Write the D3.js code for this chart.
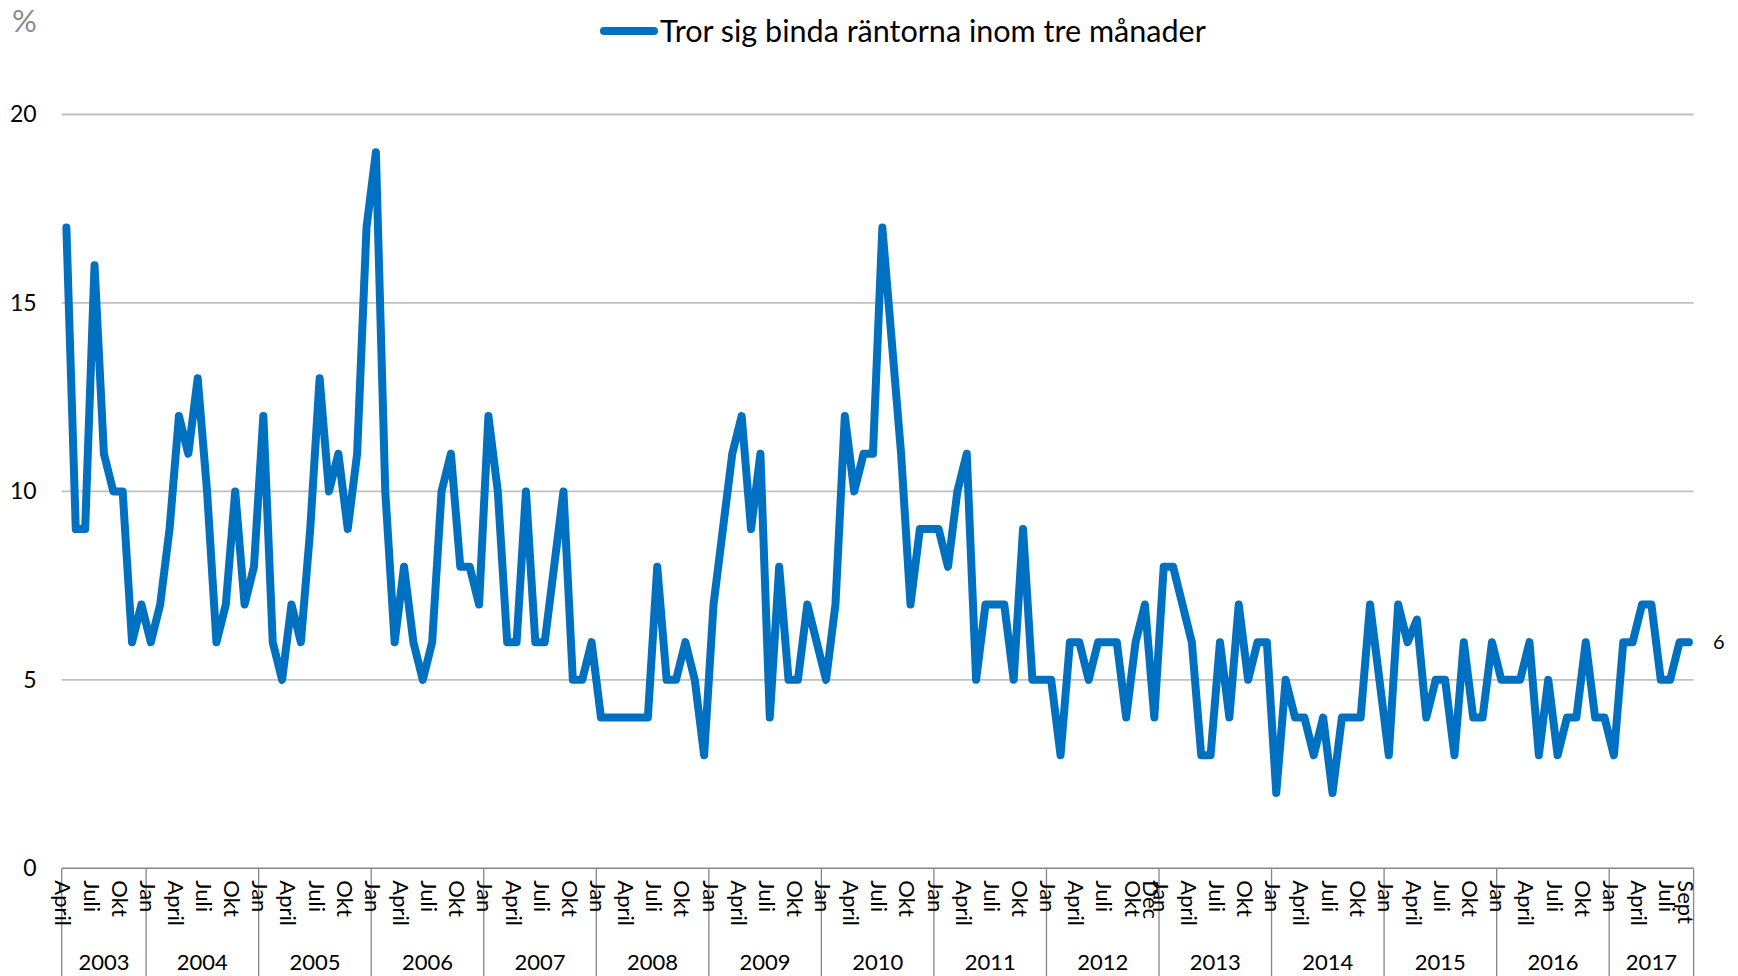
<!DOCTYPE html>
<html>
<head>
<meta charset="utf-8">
<script src="https://cdn.jsdelivr.net/npm/d3@7"></script>
<style>
  body { margin: 0; background: #ffffff; }
  svg { display: block; }
  text { font-family: Lato, "Open Sans", "DejaVu Sans", sans-serif; }
</style>
</head>
<body>
<svg id="chart" width="1738" height="976"></svg>
<script>
// ---------- DATA ----------
const seriesName = "Tror sig binda räntorna inom tre månader";
const unitLabel = "%";
const years = [2003, 2004, 2005, 2006, 2007, 2008, 2009, 2010, 2011, 2012, 2013, 2014, 2015, 2016, 2017];
const firstMonth = 4;   // April 2003
const lastMonth = 9;    // September 2017
const monthTickLabels = { 1: "Jan", 4: "April", 7: "Juli", 10: "Okt" };
const extraTickLabels = [
  { year: 2012, month: 12, label: "Dec" },
  { year: 2017, month: 9, label: "Sept" }
];
const yTicks = [0, 5, 10, 15, 20];

const values2003 = [17, 9, 9, 16, 11, 10, 10, 6, 7];
const values2004 = [6, 7, 9, 12, 11, 13, 10, 6, 7, 10, 7, 8];
const values2005 = [12, 6, 5, 7, 6, 9, 13, 10, 11, 9, 11, 17];
const values2006 = [19, 10, 6, 8, 6, 5, 6, 10, 11, 8, 8, 7];
const values2007 = [12, 10, 6, 6, 10, 6, 6, 8, 10, 5, 5, 6];
const values2008 = [4, 4, 4, 4, 4, 4, 8, 5, 5, 6, 5, 3];
const values2009 = [7, 9, 11, 12, 9, 11, 4, 8, 5, 5, 7, 6];
const values2010 = [5, 7, 12, 10, 11, 11, 17, 14, 11, 7, 9, 9];
const values2011 = [9, 8, 10, 11, 5, 7, 7, 7, 5, 9, 5, 5];
const values2012 = [5, 3, 6, 6, 5, 6, 6, 6, 4, 6, 7, 4];
const values2013 = [8, 8, 7, 6, 3, 3, 6, 4, 7, 5, 6, 6];
const values2014 = [2, 5, 4, 4, 3, 4, 2, 4, 4, 4, 7, 5];
const values2015 = [3, 7, 6, 6.6, 4, 5, 5, 3, 6, 4, 4, 6];
const values2016 = [5, 5, 5, 6, 3, 5, 3, 4, 4, 6, 4, 4];
const values2017 = [3, 6, 6, 7, 7, 5, 5, 6, 6];
const values = [].concat(values2003, values2004, values2005, values2006, values2007,
  values2008, values2009, values2010, values2011, values2012, values2013,
  values2014, values2015, values2016, values2017);

// ---------- CATEGORIES ----------
const categories = [];
years.forEach((yr, yi) => {
  const m0 = yi === 0 ? firstMonth : 1;
  const m1 = yi === years.length - 1 ? lastMonth : 12;
  for (let m = m0; m <= m1; m++) categories.push({ year: yr, month: m, key: yr + "-" + m });
});
const data = categories.map((c, i) => ({ ...c, value: values[i] }));

// ---------- LAYOUT ----------
const svg = d3.select("#chart");
const left = 61.7, right = 1693.6, yBottom = 868.3, yTop = 114.5;
const blue = "#0070C0";

const x = d3.scaleBand().domain(categories.map(c => c.key)).range([left, right]).padding(0);
const bw = x.bandwidth();
const cx = k => x(k) + bw / 2;
const y = d3.scaleLinear().domain([0, 20]).range([yBottom, yTop]);

// gridlines
svg.append("g").selectAll("line").data(yTicks.filter(t => t > 0)).join("line")
  .attr("x1", left).attr("x2", right)
  .attr("y1", d => y(d)).attr("y2", d => y(d))
  .attr("stroke", "#c0c0c0").attr("stroke-width", 1.8);

// y axis labels
const yAxis = svg.append("g").attr("transform", `translate(${left},0)`)
  .call(d3.axisLeft(y).tickValues(yTicks).tickSize(0).tickPadding(25));
yAxis.select(".domain").remove();
yAxis.selectAll("text").attr("font-size", 23).attr("fill", "#000")
  .style("font-family", "Lato, 'Open Sans', sans-serif");

// x axis line
svg.append("line").attr("x1", left).attr("x2", right)
  .attr("y1", yBottom).attr("y2", yBottom)
  .attr("stroke", "#868686").attr("stroke-width", 1.4);

// year dividers
const yearStarts = years.map(yr => categories.find(c => c.year === yr).key);
const dividerX = yearStarts.map(k => x(k)).concat([right]);
svg.append("g").selectAll("line").data(dividerX).join("line")
  .attr("x1", d => d).attr("x2", d => d)
  .attr("y1", yBottom).attr("y2", 976)
  .attr("stroke", "#868686").attr("stroke-width", 1.3);

// year labels
svg.append("g").selectAll("text").data(years).join("text")
  .attr("x", (yr, i) => (dividerX[i] + dividerX[i + 1]) / 2)
  .attr("y", 970)
  .attr("text-anchor", "middle")
  .attr("font-size", 22).attr("fill", "#000")
  .text(d => d);

// month labels
const monthLabels = [];
data.forEach(d => {
  const extra = extraTickLabels.find(e => e.year === d.year && e.month === d.month);
  if (extra) monthLabels.push({ key: d.key, label: extra.label });
  else if (monthTickLabels[d.month]) monthLabels.push({ key: d.key, label: monthTickLabels[d.month] });
});
svg.append("g").selectAll("text").data(monthLabels).join("text")
  .attr("transform", d => `translate(${cx(d.key) - 11},${yBottom + 12}) rotate(90)`)
  .attr("font-size", 22).attr("fill", "#000")
  .text(d => d.label);

// line
const line = d3.line().x(d => cx(d.key)).y(d => y(d.value));
svg.append("path").datum(data)
  .attr("d", line)
  .attr("fill", "none").attr("stroke", blue).attr("stroke-width", 8)
  .attr("stroke-linejoin", "round").attr("stroke-linecap", "round");

// last value label
const last = data[data.length - 1];
svg.append("text")
  .attr("x", cx(last.key) + 24).attr("y", y(last.value))
  .attr("dy", "0.35em").attr("font-size", 20).attr("fill", "#000")
  .text(last.value);

// unit label
svg.append("text").attr("x", 12).attr("y", 32)
  .attr("font-size", 31).attr("fill", "#8c8c8c").text(unitLabel);

// legend
const lg = svg.append("g");
lg.append("line").attr("x1", 604).attr("x2", 654).attr("y1", 31).attr("y2", 31)
  .attr("stroke", blue).attr("stroke-width", 8).attr("stroke-linecap", "round");
const lt = lg.append("text").attr("x", 660).attr("y", 31).attr("dy", "0.35em")
  .attr("font-size", 29).attr("fill", "#000").text(seriesName);
const w = lt.node().getComputedTextLength();
lt.attr("font-size", 29 * 546 / w);
</script>
</body>
</html>
